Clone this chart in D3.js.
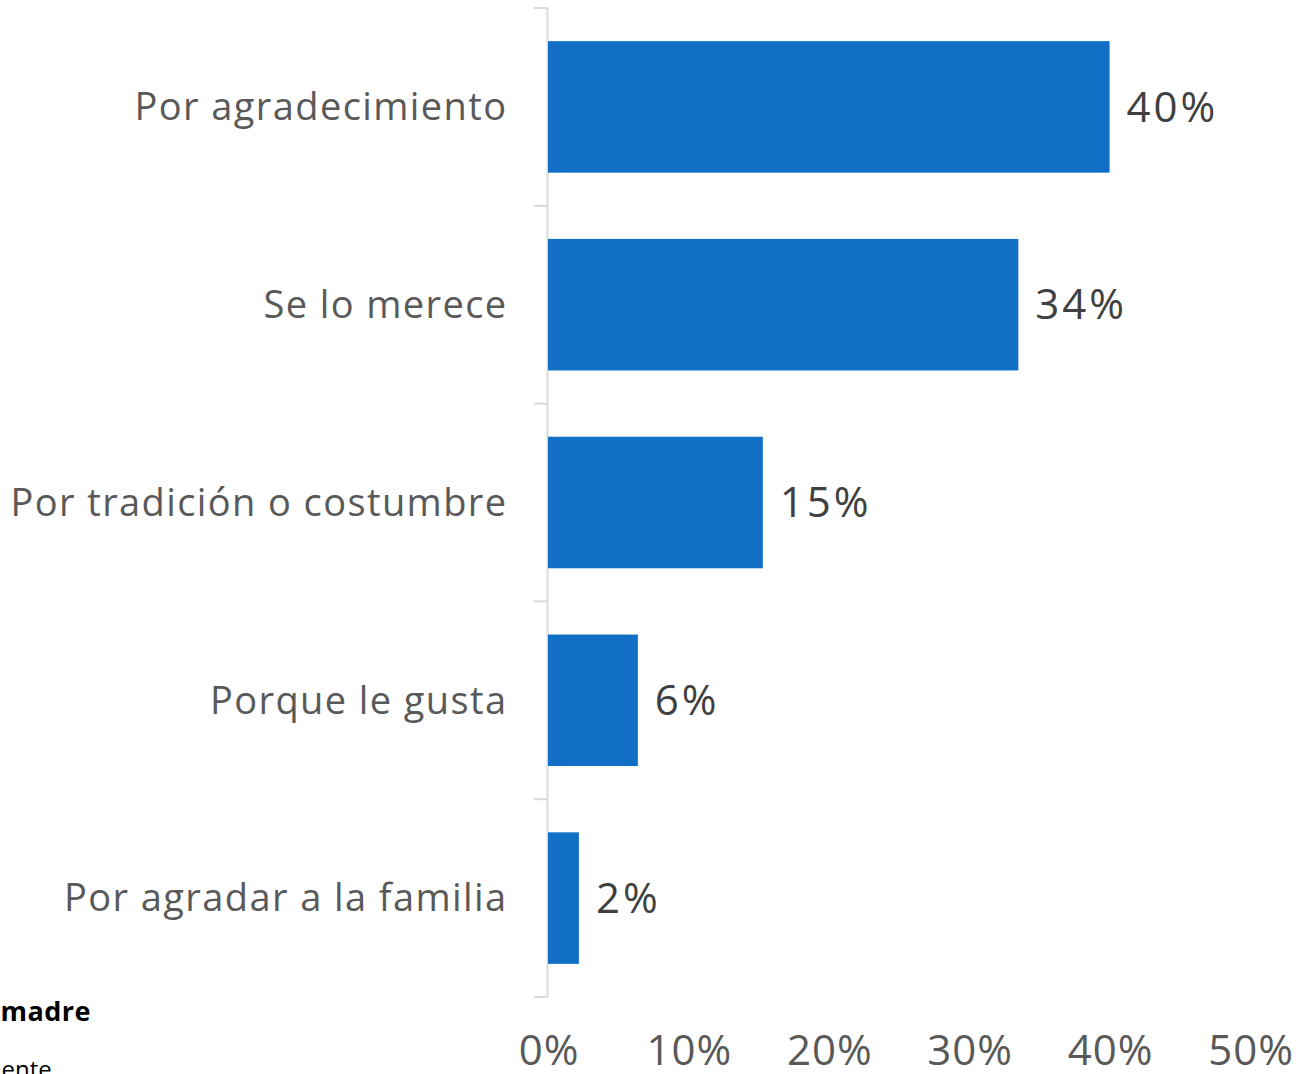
<!DOCTYPE html>
<html><head><meta charset="utf-8">
<script src="https://cdn.jsdelivr.net/npm/d3@7"></script>
<style>
html,body{margin:0;padding:0;background:#fff;overflow:hidden}
text{font-family:"Open Sans","DejaVu Sans",sans-serif}
</style></head>
<body>
<svg id="c" width="1307" height="1074"></svg>
<script>
const categories = ["Por agradecimiento","Se lo merece","Por tradición o costumbre","Porque le gusta","Por agradar a la familia"];
const values = [40.0, 33.5, 15.3, 6.4, 2.2];
const valueLabels = ["40%","34%","15%","6%","2%"];
const xTicks = [0,10,20,30,40,50];
const footnotes = ["madre","ente."];

const svg = d3.select("#c");
const x = d3.scaleLinear().domain([0,50]).range([548,1250]);
const y = d3.scaleBand().domain(categories).range([8,997]).paddingInner(0.335).paddingOuter(0.1675);

// axis line + category boundary ticks
const axisX = 547.5;
svg.append("line").attr("x1",axisX).attr("x2",axisX).attr("y1",y.range()[0]).attr("y2",y.range()[1])
  .attr("stroke","#d9d9d9").attr("stroke-width",2);
const bounds = categories.map(c=>y(c)-y.step()*y.paddingInner()/2).concat([y.range()[1]]);
svg.selectAll("line.tk").data(bounds).join("line").attr("class","tk")
  .attr("x1",534).attr("x2",axisX).attr("y1",d=>d).attr("y2",d=>d)
  .attr("stroke","#d9d9d9").attr("stroke-width",2);

// bars
svg.selectAll("rect.bar").data(categories).join("rect").attr("class","bar")
  .attr("x",x(0)).attr("y",d=>y(d)).attr("width",(d,i)=>x(values[i])-x(0)).attr("height",y.bandwidth())
  .attr("fill","#1170c6");

// category labels
svg.selectAll("text.cat").data(categories).join("text").attr("class","cat")
  .attr("x",507.5).attr("y",d=>y(d)+y.bandwidth()/2).attr("dy","0.35em")
  .attr("text-anchor","end").attr("font-size",38).attr("fill","#595959")
  .attr("letter-spacing",1.4).text(d=>d);

// value labels
svg.selectAll("text.val").data(categories).join("text").attr("class","val")
  .attr("x",(d,i)=>x(values[i])+17).attr("y",d=>y(d)+y.bandwidth()/2).attr("dy","0.35em")
  .attr("font-size",42).attr("fill","#404040").attr("letter-spacing",3).text((d,i)=>valueLabels[i]);

// x tick labels
svg.selectAll("text.xt").data(xTicks).join("text").attr("class","xt")
  .attr("x",d=>x(d)+1).attr("y",1065).attr("text-anchor","middle")
  .attr("font-size",42).attr("fill","#595959").attr("letter-spacing",1).text(d=>d+"%");

// cut-off footnote fragments
svg.append("text").attr("x",91).attr("y",1021).attr("text-anchor","end")
  .attr("font-size",27).attr("font-weight","bold").attr("fill","#000").attr("letter-spacing",0.5).text(footnotes[0]);
svg.append("text").attr("x",58).attr("y",1078).attr("text-anchor","end")
  .attr("font-size",24).attr("fill","#000").text(footnotes[1]);
</script>
</body></html>
